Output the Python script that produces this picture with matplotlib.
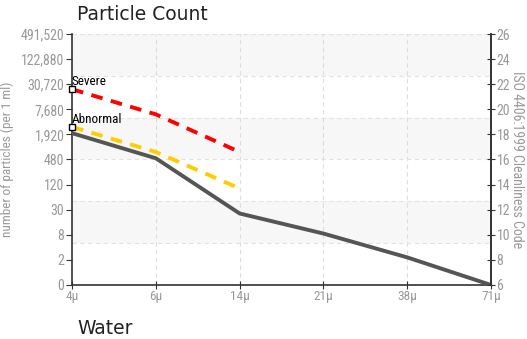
import matplotlib
matplotlib.use("Agg")
import matplotlib.pyplot as plt

narrow = ["Roboto Condensed", "DejaVu Sans"]

sizes = ["4μ", "6μ", "14μ", "21μ", "38μ", "71μ"]
count_labels = ["0", "2", "8", "30", "120", "480", "1,920", "7,680", "30,720", "122,880", "491,520"]
iso_codes = [6, 8, 10, 12, 14, 16, 18, 20, 22, 24, 26]
water = [18.1, 16.1, 11.7, 10.1, 8.2, 6.0]
severe = [21.6, 19.6, 16.6]
abnormal = [18.6, 16.6, 13.7]

fig = plt.figure(figsize=(5.27, 3.39), dpi=100)
ax = fig.add_axes([0.1366, 0.1593, 0.7951, 0.7404])
x = list(range(len(sizes)))
ymin, ymax = 6, 26
ax.set_xlim(0, len(sizes) - 1)
ax.set_ylim(ymin, ymax)

# alternating bands
nb = 6
h = (ymax - ymin) / nb
for i in range(nb):
    lo = ymax - (i + 1) * h
    if i % 2 == 0:
        ax.axhspan(lo, lo + h, color="#f7f7f7", zorder=0, lw=0)
    ax.axhline(lo, color="#e2e2e2", lw=0.8, ls=(0, (4, 3)), zorder=0.5)
ax.axhline(ymax, color="#e2e2e2", lw=0.8, ls=(0, (4, 3)), zorder=0.5)
for xi in x[1:-1]:
    ax.axvline(xi, color="#dddddd", lw=0.8, ls=(0, (4, 3)), zorder=0.5)

ax.plot(x, water, color="#555555", lw=2.8, zorder=3, solid_capstyle="round")
ax.plot(x[:3], severe, color="#ff0000", lw=2.8, ls=(0, (3, 2.2)), zorder=3)
ax.plot(x[:3], abnormal, color="#ffcc00", lw=2.8, ls=(0, (3, 2.2)), zorder=3)
ax.plot([0], [severe[0]], marker="s", ms=4.5, mfc="white", mec="black", mew=1, zorder=5, clip_on=False)
ax.plot([0], [abnormal[0]], marker="s", ms=4.5, mfc="white", mec="black", mew=1, zorder=5, clip_on=False)
ax.annotate("Severe", (0, severe[0]), xytext=(-0.5, 3), textcoords="offset points",
            fontsize=9.5, family=narrow, color="black", zorder=6)
ax.annotate("Abnormal", (0, abnormal[0]), xytext=(-0.5, 3), textcoords="offset points",
            fontsize=9.5, family=narrow, color="black", zorder=6)

ax.spines["top"].set_visible(False)
for s in ["left", "bottom", "right"]:
    ax.spines[s].set_color("#333333")
    ax.spines[s].set_linewidth(1.2)

ax.set_xticks(x)
ax.set_xticklabels(sizes, family=narrow, fontsize=9.5, color="#999999")
ax.set_yticks(iso_codes)
ax.set_yticklabels(count_labels, family=narrow, fontsize=10, color="#999999")
ax.tick_params(axis="x", direction="inout", length=6, color="#333333", pad=0.5)
ax.tick_params(axis="y", direction="out", length=4, color="#333333", pad=1.5)
ax.set_ylabel("number of particles (per 1 ml)", family=narrow, fontsize=9.5, color="#999999")
ax.yaxis.set_label_coords(-0.138, 0.5)

ax2 = ax.twinx()
ax2.set_position(ax.get_position())
ax2.set_ylim(ymin, ymax)
ax2.set_yticks(iso_codes)
ax2.set_yticklabels([str(v) for v in iso_codes], family=narrow, fontsize=10, color="#999999")
ax2.tick_params(axis="y", direction="inout", length=6, color="#333333", pad=1)
for s in ["top", "left", "bottom"]:
    ax2.spines[s].set_visible(False)
ax2.spines["right"].set_color("#333333")
ax2.spines["right"].set_linewidth(1.2)
ax2.set_ylabel("ISO 4406:1999 Cleanliness Code", family=narrow, fontsize=10, color="#999999",
               rotation=-90, va="center")
ax2.yaxis.set_label_coords(1.062, 0.5)

fig.text(77 / 527, 1 - 14 / 339, "Particle Count", fontsize=13.5, color="#222222", va="center", ha="left")
fig.text(77 / 527, 1 - 329 / 339, "Water", fontsize=13.5, color="#222222", va="center", ha="left")

fig.savefig("out.png", dpi=100)
